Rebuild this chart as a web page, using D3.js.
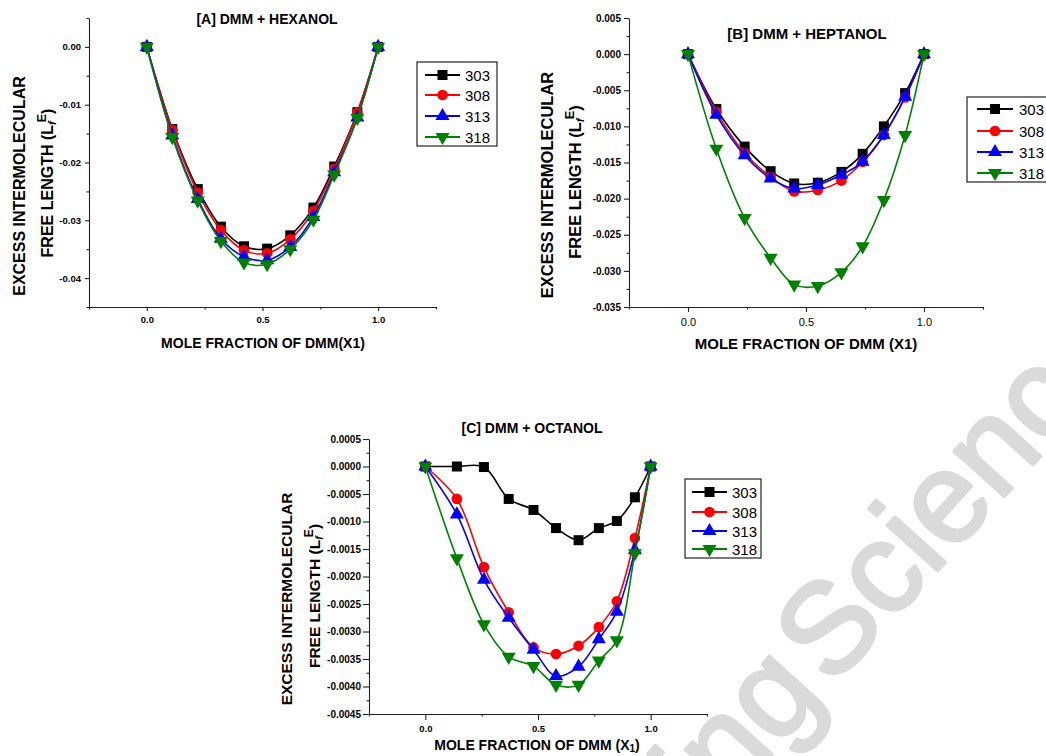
<!DOCTYPE html>
<html><head><meta charset="utf-8">
<script src="https://cdn.jsdelivr.net/npm/d3@7"></script>
<style>body{margin:0;background:#fff}svg{display:block}text{font-family:"Liberation Sans",Arial,sans-serif}</style>
</head><body><svg id="chart" width="1046" height="756"></svg>
<script>
// ---------- data ----------
const seriesNames = ["303", "308", "313", "318"];
const seriesColors = ["#000000", "#ff0000", "#0000ff", "#008000"];

const xA = [0, 0.11, 0.22, 0.32, 0.42, 0.52, 0.62, 0.72, 0.81, 0.91, 1.0];
const a303 = [0, -0.0142, -0.0246, -0.0311, -0.0345, -0.0349, -0.0326, -0.0278, -0.0207, -0.0113, 0];
const a308 = [0, -0.0144, -0.0252, -0.0317, -0.0352, -0.0357, -0.0333, -0.0284, -0.0211, -0.0114, 0];
const a313 = [0, -0.0153, -0.0263, -0.0332, -0.0363, -0.0369, -0.0346, -0.0294, -0.0217, -0.0122, 0];
const a318 = [0, -0.0156, -0.0266, -0.0336, -0.0373, -0.0376, -0.0350, -0.0299, -0.0221, -0.0123, 0];

const xB = [0, 0.12, 0.24, 0.35, 0.45, 0.55, 0.65, 0.74, 0.83, 0.92, 1.0];
const b303 = [0, -0.0076, -0.0128, -0.0162, -0.0179, -0.0178, -0.0163, -0.0138, -0.0100, -0.0054, 0];
const b308 = [0, -0.0080, -0.0137, -0.0170, -0.0190, -0.0188, -0.0175, -0.0149, -0.0112, -0.0060, 0];
const b313 = [0, -0.0084, -0.0140, -0.0172, -0.0186, -0.0181, -0.0167, -0.0149, -0.0112, -0.0059, 0];
const b318 = [0, -0.0131, -0.0227, -0.0282, -0.0319, -0.0321, -0.0302, -0.0266, -0.0202, -0.0112, 0];

const xC = [0, 0.14, 0.26, 0.37, 0.48, 0.58, 0.68, 0.77, 0.85, 0.93, 1.0];
const c303 = [0, 0, -0.00001, -0.00059, -0.00079, -0.00112, -0.00134, -0.00112, -0.00099, -0.00056, 0];
const c308 = [0, -0.00059, -0.00183, -0.00265, -0.00329, -0.00341, -0.00326, -0.00292, -0.00245, -0.00130, 0];
const c313 = [0, -0.00087, -0.00206, -0.00275, -0.00333, -0.00381, -0.00364, -0.00314, -0.00264, -0.00152, 0];
const c318 = [0, -0.00167, -0.00287, -0.00346, -0.00363, -0.00397, -0.00397, -0.00353, -0.00316, -0.00158, 0];

const xTicks = [0, 0.5, 1.0];
const xTickLabels = ["0.0", "0.5", "1.0"];
const xMinorTicks = [-0.25, 0.25, 0.75, 1.25];

const yTicksA = [0, -0.01, -0.02, -0.03, -0.04];
const yTickLabelsA = ["0.00", "-0.01", "-0.02", "-0.03", "-0.04"];
const yMinorA = [0.005, -0.005, -0.015, -0.025, -0.035, -0.045];

const yTicksB = [0.005, 0, -0.005, -0.01, -0.015, -0.02, -0.025, -0.03, -0.035];
const yTickLabelsB = ["0.005", "0.000", "-0.005", "-0.010", "-0.015", "-0.020", "-0.025", "-0.030", "-0.035"];
const yMinorB = [0.0025, -0.0025, -0.0075, -0.0125, -0.0175, -0.0225, -0.0275, -0.0325];

const yTicksC = [0.0005, 0, -0.0005, -0.001, -0.0015, -0.002, -0.0025, -0.003, -0.0035, -0.004, -0.0045];
const yTickLabelsC = ["0.0005", "0.0000", "-0.0005", "-0.0010", "-0.0015", "-0.0020", "-0.0025", "-0.0030", "-0.0035", "-0.0040", "-0.0045"];
const yMinorC = [0.00025, -0.00025, -0.00075, -0.00125, -0.00175, -0.00225, -0.00275, -0.00325, -0.00375, -0.00425];

// ---------- drawing ----------
const svg = d3.select("#chart");
svg.append("rect").attr("width", 1046).attr("height", 756).attr("fill", "#fff");

// watermark
const wm = svg.append("g").attr("transform", "translate(832,688) rotate(-48)")
  .attr("fill", "#dadada").attr("stroke", "#dadada").attr("stroke-width", 3.5)
  .attr("stroke-linejoin", "round").attr("stroke-linecap", "round")
  .style("font-family", "Lato, 'Open Sans', sans-serif")
  .attr("font-size", 128);
wm.append("text").attr("x", -10).attr("text-anchor", "end").text("Engineering");
wm.append("text").attr("x", 0).text("Science");

const symTypes = [d3.symbolSquare, d3.symbolCircle, d3.symbolTriangle, d3.symbolTriangle];
const symSizes = [100, 90, 85, 85];
const symRot = [0, 0, 0, 180];
function sym(i) { return d3.symbol().type(symTypes[i]).size(symSizes[i])(); }

function panel(cfg) {
  const g = svg.append("g");
  const x = d3.scaleLinear().domain([-0.25, 1.25]).range([cfg.left, cfg.right]);
  const y = d3.scaleLinear().domain(cfg.yDomain).range([cfg.bottom, cfg.top]);

  // y axis
  const ya = g.append("g").attr("transform", `translate(${cfg.left},0)`)
    .call(d3.axisLeft(y).tickValues(cfg.yTicks).tickFormat((d, i) => cfg.yLabels[i])
      .tickSize(cfg.tick).tickSizeOuter(0).tickPadding(cfg.pad));
  ya.selectAll("text").attr("font-size", cfg.yFont).attr("font-weight", "bold").attr("fill", "#000")
    .style("font-family", "'Liberation Sans', Arial, sans-serif");
  const ym = g.append("g").attr("transform", `translate(${cfg.left},0)`)
    .call(d3.axisLeft(y).tickValues(cfg.yMinor).tickFormat("").tickSize(2.5).tickSizeOuter(0));
  ym.select(".domain").remove();

  // x axis
  const xa = g.append("g").attr("transform", `translate(0,${cfg.bottom})`)
    .call(d3.axisBottom(x).tickValues(xTicks).tickFormat((d, i) => xTickLabels[i])
      .tickSize(cfg.tick).tickSizeOuter(0).tickPadding(cfg.xpad));
  xa.selectAll("text").attr("font-size", cfg.xFont).attr("font-weight", cfg.xBold ? "bold" : "normal").attr("fill", "#000")
    .style("font-family", "'Liberation Sans', Arial, sans-serif");
  const xm = g.append("g").attr("transform", `translate(0,${cfg.bottom})`)
    .call(d3.axisBottom(x).tickValues(xMinorTicks).tickFormat("").tickSize(2.5).tickSizeOuter(0));
  xm.select(".domain").remove();
  g.selectAll(".domain, .tick line").attr("stroke", "#222").attr("stroke-width", 1.1);

  // series
  const line = d3.line().x(d => x(d[0])).y(d => y(d[1])).curve(d3.curveCatmullRom.alpha(0.5));
  cfg.series.forEach((vals, si) => {
    const pts = cfg.xs.map((xv, k) => [xv, vals[k]]);
    g.append("path").attr("d", line(pts)).attr("fill", "none")
      .attr("stroke", seriesColors[si]).attr("stroke-width", 1.6);
    g.selectAll(null).data(pts).enter().append("path")
      .attr("d", sym(si)).attr("fill", seriesColors[si])
      .attr("transform", d => `translate(${x(d[0])},${y(d[1])}) rotate(${symRot[si]})`);
  });

  // title
  g.append("text").attr("x", cfg.titleX).attr("y", cfg.titleY).attr("text-anchor", "middle")
    .attr("font-weight", "bold").attr("font-size", cfg.titleFont).text(cfg.title);

  // x label
  const xl = g.append("text").attr("x", cfg.xlX).attr("y", cfg.xlY).attr("text-anchor", "middle")
    .attr("font-weight", "bold").attr("font-size", cfg.xlFont);
  if (cfg.xlSub) {
    xl.append("tspan").text("MOLE FRACTION OF DMM (X");
    xl.append("tspan").attr("font-size", 10).attr("dy", 2).text("1");
    xl.append("tspan").attr("dy", -2).text(")");
  } else {
    xl.text(cfg.xlText);
  }

  // y label
  g.append("text").attr("transform", `translate(${cfg.yl1X},${cfg.ylY}) rotate(-90)`)
    .attr("text-anchor", "middle").attr("font-weight", "bold").attr("font-size", cfg.ylFont)
    .text("EXCESS INTERMOLECULAR");
  const yl2 = g.append("text").attr("transform", `translate(${cfg.yl2X},${cfg.ylY - 3}) rotate(-90)`)
    .attr("text-anchor", "middle").attr("font-weight", "bold").attr("font-size", cfg.ylFont);
  yl2.append("tspan").text("FREE LENGTH (L");
  yl2.append("tspan").attr("font-size", cfg.ylFont * 0.7).attr("font-style", "italic").attr("dy", 3).text("f");
  yl2.append("tspan").attr("font-size", cfg.ylFont * 0.78).attr("dx", -1).attr("dy", -10).text("E");
  yl2.append("tspan").attr("dy", 7).text(")");

  // legend
  const L = cfg.legend;
  const lg = g.append("g");
  lg.append("rect").attr("x", L.x).attr("y", L.y).attr("width", L.w).attr("height", L.h)
    .attr("fill", "#fff").attr("stroke", "#222").attr("stroke-width", 1.2);
  seriesNames.forEach((nm, si) => {
    const yy = L.rows[si];
    lg.append("line").attr("x1", L.l1).attr("x2", L.l2).attr("y1", yy).attr("y2", yy)
      .attr("stroke", seriesColors[si]).attr("stroke-width", 2);
    lg.append("path").attr("d", sym(si)).attr("fill", seriesColors[si])
      .attr("transform", `translate(${(L.l1 + L.l2) / 2},${yy}) rotate(${symRot[si]})`);
    lg.append("text").attr("x", L.tx).attr("y", yy + 5.5).attr("font-size", 15).text(nm);
  });
}

panel({
  left: 89, right: 436, top: 18, bottom: 307, yDomain: [-0.045, 0.005],
  yTicks: yTicksA, yLabels: yTickLabelsA, yMinor: yMinorA, tick: 4, pad: 4, xpad: 5,
  yFont: 9.5, xFont: 9.5, xBold: true,
  xs: xA, series: [a303, a308, a313, a318],
  title: "[A] DMM + HEXANOL", titleX: 267, titleY: 24, titleFont: 14,
  xlText: "MOLE FRACTION OF DMM(X1)", xlX: 263, xlY: 348, xlFont: 14,
  yl1X: 25, yl2X: 53, ylY: 186, ylFont: 16,
  legend: { x: 417, y: 62, w: 80, h: 84, rows: [75, 95, 116, 137], l1: 425, l2: 460, tx: 465 }
});

panel({
  left: 629, right: 983, top: 18, bottom: 307, yDomain: [-0.035, 0.005],
  yTicks: yTicksB, yLabels: yTickLabelsB, yMinor: yMinorB, tick: 5, pad: 3, xpad: 6,
  yFont: 10, xFont: 11, xBold: false,
  xs: xB, series: [b303, b308, b313, b318],
  title: "[B] DMM + HEPTANOL", titleX: 807, titleY: 39, titleFont: 15,
  xlText: "MOLE FRACTION OF DMM (X1)", xlX: 806, xlY: 349, xlFont: 15,
  yl1X: 553, yl2X: 581, ylY: 185, ylFont: 16.5,
  legend: { x: 967, y: 97, w: 100, h: 85, rows: [109, 131, 152, 173], l1: 977, l2: 1013, tx: 1019 }
});

panel({
  left: 369, right: 707, top: 439, bottom: 714, yDomain: [-0.0045, 0.0005],
  yTicks: yTicksC, yLabels: yTickLabelsC, yMinor: yMinorC, tick: 6, pad: 2, xpad: 5,
  yFont: 10, xFont: 9.5, xBold: true,
  xs: xC, series: [c303, c308, c313, c318],
  title: "[C] DMM + OCTANOL", titleX: 532, titleY: 433, titleFont: 14,
  xlSub: true, xlX: 537, xlY: 750, xlFont: 14,
  yl1X: 291.5, yl2X: 320, ylY: 599, ylFont: 15.5,
  legend: { x: 685, y: 479, w: 76, h: 79, rows: [492, 512, 531, 549], l1: 692, l2: 727, tx: 732 }
});
</script></body></html>
